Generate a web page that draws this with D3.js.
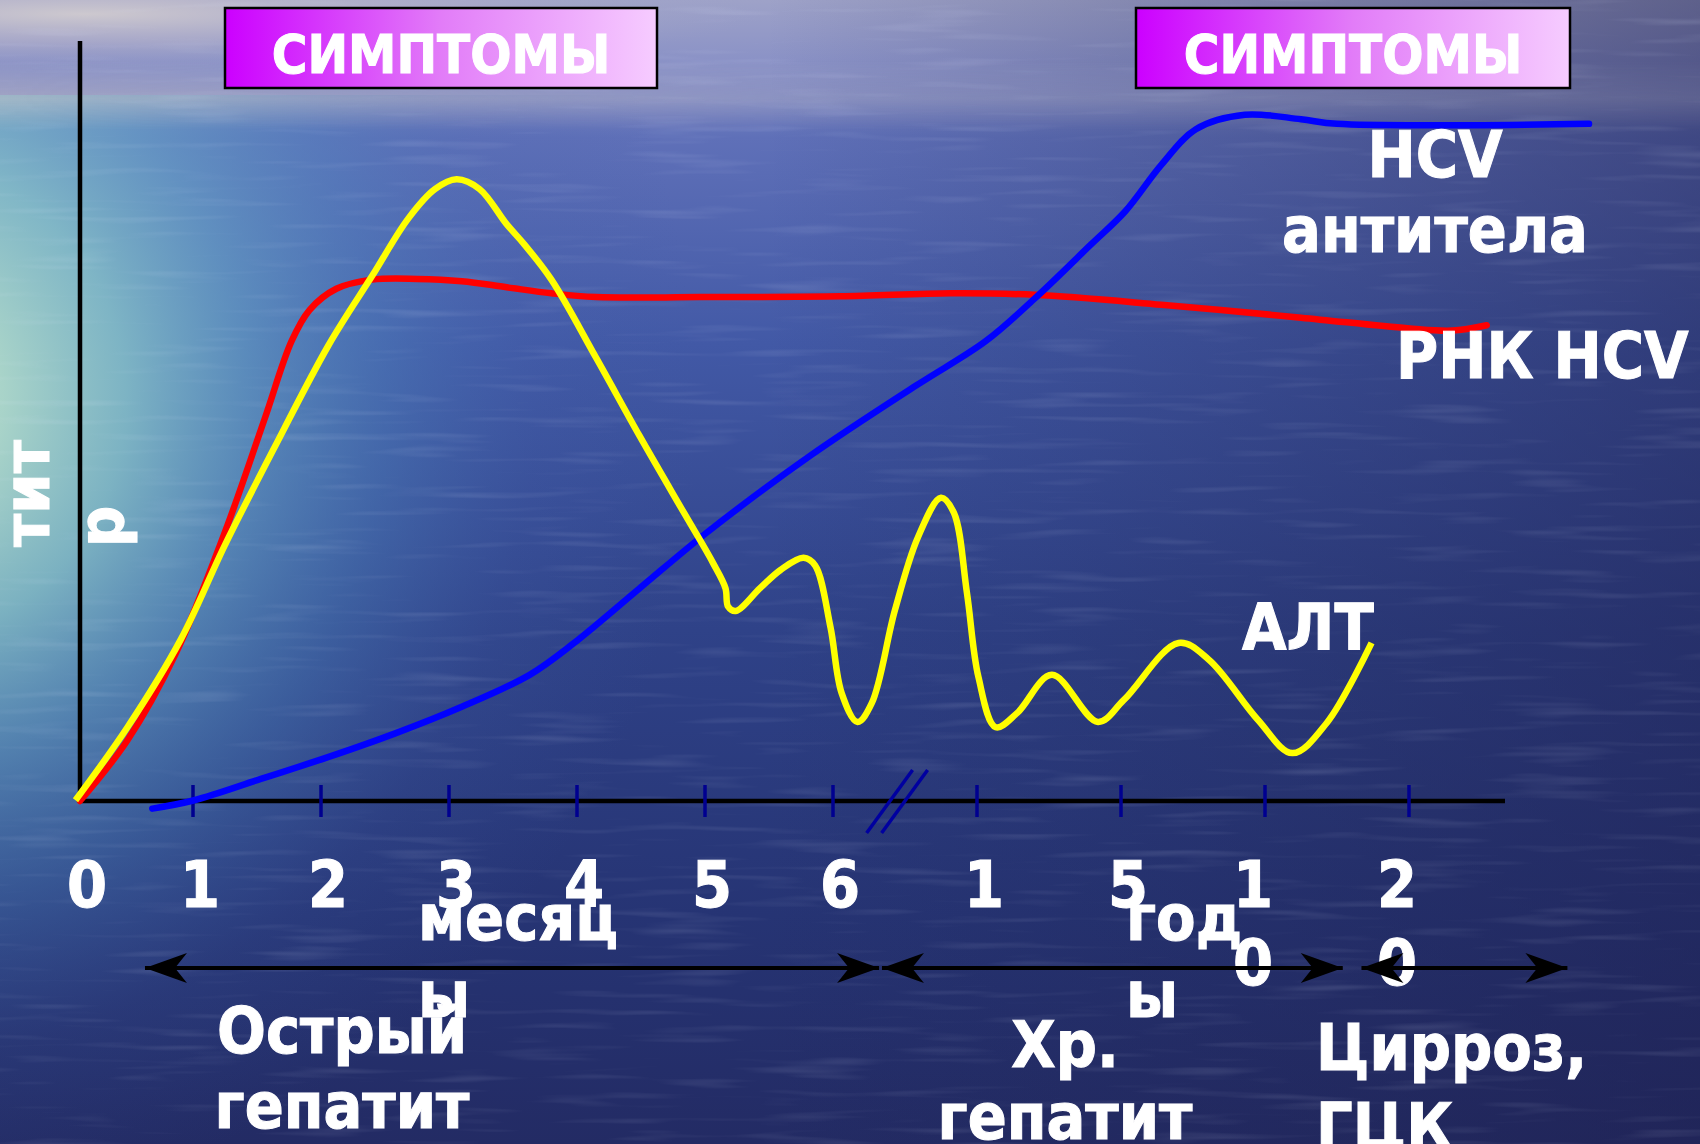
<!DOCTYPE html>
<html lang="ru">
<head>
<meta charset="UTF-8">
<title>HCV</title>
<script src="https://d3js.org/d3.v7.min.js"></script>
<style>
  body { margin: 0; background: #1e2a60; }
  svg text {
    font-family: "DejaVu Sans Condensed", "DejaVu Sans", sans-serif;
    font-stretch: condensed;
    font-weight: bold;
    fill: #fff;
    stroke: #fff;
    stroke-width: 1;
  }
</style>
</head>
<body>
<svg id="chart" width="1700" height="1144"></svg>
<script>
// time axis: t = 0..6 months, then 7..10 = 1, 5, 10, 20 years
var tickT      = [1, 2, 3, 4, 5, 6, 7, 8, 9, 10];
var labelT     = [0, 1, 2, 3, 4, 5, 6, 7, 8, 9, 10];
var tickLabels = ["0", "1", "2", "3", "4", "5", "6", "1", "5", "10", "20"];
var breakT = 6.4;

// РНК HCV  [t, titre]
var rnaHcv = [[0, 0], [0.42, 8], [0.85, 19.5], [1.25, 35.4], [1.56, 50.3], [1.77, 60.5],
  [1.91, 64.6], [2.12, 67.4], [2.4, 68.6], [2.75, 68.7], [3.1, 68.4], [3.45, 67.6],
  [3.8, 66.8], [4.15, 66.3], [4.96, 66.3], [6.05, 66.4], [6.82, 66.8], [7.4, 66.6],
  [8.28, 65.3], [9.25, 63.6], [9.99, 62.2], [10.3, 61.9], [10.54, 62.6]];

// HCV антитела
var antiHcv = [[0.64, -1], [1.01, 0.1], [1.53, 2.9], [2.06, 5.8], [2.58, 8.9], [3.1, 12.4],
  [3.63, 16.6], [3.97, 20.7], [4.49, 28], [5.02, 35.4], [5.82, 45.4], [6.58, 54.7],
  [7.06, 60.5], [7.4, 66.1], [7.79, 73.2], [8.03, 77.6], [8.28, 83.7], [8.52, 88.4],
  [8.86, 90.3], [9.25, 89.7], [9.5, 89.1], [11.25, 89.1]];

// АЛТ
var alt = [[-0.04, 0.1], [0.42, 9.7], [0.89, 21.2], [1.25, 33.7], [1.63, 46.3], [2.06, 60],
  [2.4, 69.1], [2.68, 76.6], [2.89, 80.5], [3.06, 81.8], [3.24, 80.5], [3.45, 75.9],
  [3.59, 73.2], [3.8, 68.6], [4.15, 58.3], [4.49, 48], [4.84, 37.8], [5.06, 31.4],
  [5.16, 28], [5.18, 25.6], [5.24, 25], [5.43, 28], [5.59, 30.4], [5.77, 32], [5.86, 31],
  [5.98, 22.9], [6.06, 14.2], [6.17, 10.4], [6.27, 12.9], [6.43, 25.1], [6.59, 34.7],
  [6.75, 39.9], [6.84, 37.9], [6.93, 27.4], [7.01, 16.3], [7.13, 9.7], [7.28, 11.6],
  [7.52, 16.6], [7.84, 10.4], [8.02, 13.3], [8.4, 20.8], [8.61, 18.6],
  [8.95, 10.7], [9.19, 6.3], [9.43, 10.3], [9.74, 20.8]];

// stages shown by the double arrows
var phases = [[0.575, 6.32], [6.34, 9.54], [9.67, 11.1]];

var svg = d3.select("#chart");
var W = 1700, H = 1144;

var x = d3.scaleLinear().domain([0, 1, 6, 7, 10]).range([80, 193, 833, 977, 1409]);
var y = d3.scaleLinear().domain([0, 100]).range([801, 41]);

// ---------- background (sea photo approximation)
var defs = svg.append("defs");

function stops(grad, list) {
  list.forEach(function(s) {
    grad.append("stop").attr("offset", s[0]).attr("stop-color", s[1])
      .attr("stop-opacity", s[2] == null ? 1 : s[2]);
  });
}

stops(defs.append("linearGradient").attr("id", "bgV").attr("x1", 0).attr("y1", 0).attr("x2", 0).attr("y2", 1),
  [[0, "#9ea2c8"], [0.06, "#8890c6"], [0.09, "#7480c0"], [0.12, "#5f70b8"], [0.3, "#4259a6"],
   [0.55, "#2f4288"], [0.8, "#263474"], [1, "#232b64"]]);

stops(defs.append("linearGradient").attr("id", "bgH").attr("x1", 0).attr("y1", 0).attr("x2", 1).attr("y2", 0),
  [[0, "#1f2350", 0], [0.45, "#1f2350", 0], [1, "#1e1f4e", 0.5]]);

stops(defs.append("radialGradient").attr("id", "glow").attr("gradientUnits", "userSpaceOnUse")
    .attr("cx", -120).attr("cy", 400).attr("r", 820),
  [[0, "#c4e6d0", 1], [0.15, "#aedacb", 0.95], [0.3, "#88c4ca", 0.85], [0.45, "#68a6c8", 0.65],
   [0.62, "#5088c0", 0.4], [0.8, "#4468b0", 0.15], [1, "#3b5ca8", 0]]);

stops(defs.append("radialGradient").attr("id", "sky").attr("cx", 0.05).attr("cy", 0.1).attr("r", 0.4),
  [[0, "#d6d0d0", 0.85], [0.5, "#bdb8cb", 0.5], [1, "#a0a4c8", 0]]);

stops(defs.append("linearGradient").attr("id", "horizon").attr("x1", 0).attr("y1", 0).attr("x2", 0).attr("y2", 1),
  [[0, "#d8d0c8", 0], [0.55, "#d8d0c8", 0.45], [1, "#d8d0c8", 0]]);
stops(defs.append("linearGradient").attr("id", "horizonFade").attr("x1", 0).attr("y1", 0).attr("x2", 1).attr("y2", 0),
  [[0, "#fff", 1], [0.5, "#fff", 0.45], [1, "#fff", 0.3]]);
defs.append("mask").attr("id", "hzMask")
  .append("rect").attr("width", W).attr("height", H).attr("fill", "url(#horizonFade)");

var ripple = defs.append("filter").attr("id", "ripple").attr("x", 0).attr("y", 0).attr("width", 1).attr("height", 1);
ripple.append("feTurbulence").attr("type", "fractalNoise").attr("baseFrequency", "0.008 0.12")
  .attr("numOctaves", 2).attr("seed", 4);
ripple.append("feColorMatrix").attr("type", "matrix")
  .attr("values", "0 0 0 0 0.8  0 0 0 0 0.85  0 0 0 0 1  0 0 0 1.1 -0.6");

svg.append("rect").attr("width", W).attr("height", H).attr("fill", "url(#bgV)");
svg.append("rect").attr("y", 95).attr("width", W).attr("height", H - 95).attr("fill", "url(#glow)");
svg.append("rect").attr("width", W).attr("height", H).attr("fill", "url(#bgH)");
svg.append("rect").attr("width", W).attr("height", 140).attr("fill", "url(#sky)");
svg.append("rect").attr("y", 60).attr("width", W).attr("height", 70)
  .attr("fill", "url(#horizon)").attr("mask", "url(#hzMask)");
svg.append("rect").attr("width", W).attr("height", H)
  .attr("filter", "url(#ripple)").attr("opacity", 0.28);

// ---------- symptom boxes
var boxGrad = defs.append("linearGradient").attr("id", "boxGrad");
stops(boxGrad, [[0, "#cc00ff"], [0.5, "#e27cf8"], [1, "#f6ccff"]]);

var boxes = svg.selectAll(".sym").data([[225, 657], [1136, 1570]]).join("g").attr("class", "sym");
boxes.append("rect")
  .attr("x", d => d[0]).attr("y", 8)
  .attr("width", d => d[1] - d[0]).attr("height", 80)
  .attr("fill", "url(#boxGrad)").attr("stroke", "#000").attr("stroke-width", 2.5);
boxes.append("text")
  .attr("x", d => (d[0] + d[1]) / 2).attr("y", 73)
  .attr("text-anchor", "middle").attr("font-size", 54)
  .text("СИМПТОМЫ");

// ---------- axes
svg.append("line").attr("x1", x(0)).attr("x2", x(0)).attr("y1", y(100)).attr("y2", y(0) + 2)
  .attr("stroke", "#000").attr("stroke-width", 4.5);
svg.append("line").attr("x1", x(0) - 2).attr("x2", 1505).attr("y1", y(0)).attr("y2", y(0))
  .attr("stroke", "#000").attr("stroke-width", 4.5);

svg.selectAll(".tick").data(tickT).join("line").attr("class", "tick")
  .attr("x1", d => x(d)).attr("x2", d => x(d))
  .attr("y1", y(0) - 16).attr("y2", y(0) + 16)
  .attr("stroke", "#000090").attr("stroke-width", 3.5);

// axis break
[0, 15].forEach(function(dx) {
  svg.append("line")
    .attr("x1", x(breakT) - 24 + dx).attr("y1", y(0) + 32)
    .attr("x2", x(breakT) + 22 + dx).attr("y2", y(0) - 31)
    .attr("stroke", "#0000a0").attr("stroke-width", 3.5);
});

// tick labels (long ones wrap one character per line)
var tl = svg.selectAll(".tl").data(labelT).join("text").attr("class", "tl")
  .attr("text-anchor", "middle").attr("font-size", 64)
  .attr("y", 907);
tl.each(function(d, i) {
  var chars = tickLabels[i].split("");
  var cx = x(d) + (chars.length > 1 ? -12 : 7);
  d3.select(this).selectAll("tspan").data(chars).join("tspan")
    .attr("x", cx).attr("dy", (c, j) => j ? 78 : 0)
    .text(c => c);
});

// ---------- curves
var line = d3.line().x(d => x(d[0])).y(d => y(d[1])).curve(d3.curveCatmullRom.alpha(0.5));

svg.append("path").datum(rnaHcv).attr("d", line)
  .attr("fill", "none").attr("stroke", "#ff0000").attr("stroke-width", 6.5).attr("stroke-linecap", "round");
svg.append("path").datum(antiHcv).attr("d", line)
  .attr("fill", "none").attr("stroke", "#0000ff").attr("stroke-width", 6.5).attr("stroke-linecap", "round");
svg.append("path").datum(alt).attr("d", line)
  .attr("fill", "none").attr("stroke", "#ffff00").attr("stroke-width", 6.5).attr("stroke-linejoin", "round");

// ---------- series labels
function block(lines, px, py, anchor, lh) {
  var t = svg.append("text").attr("font-size", 64).attr("text-anchor", anchor).attr("y", py);
  lines.forEach(function(s, j) {
    t.append("tspan").attr("x", px).attr("dy", j ? lh : 0).text(s);
  });
  return t;
}
block(["HCV", "антитела"], 1435, 177, "middle", 75);
block(["РНК HCV"], 1396, 378, "start", 75);
block(["АЛТ"], 1242, 650, "start", 75);

// y-axis title, wrapped and rotated
var yt = svg.append("text").attr("font-size", 64)
  .attr("transform", "translate(49,547) rotate(-90)");
yt.append("tspan").attr("x", 0).attr("y", 0).text("тит");
yt.append("tspan").attr("x", 0).attr("dy", 75).text("р");

// unit labels
block(["месяц", "ы"], 418, 940, "start", 77);
block(["год", "ы"], 1126, 940, "start", 77);

// ---------- stage arrows
defs.append("marker").attr("id", "head")
  .attr("viewBox", "-44 -17 46 34").attr("markerWidth", 46).attr("markerHeight", 34)
  .attr("markerUnits", "userSpaceOnUse").attr("refX", 0).attr("refY", 0)
  .attr("orient", "auto-start-reverse")
  .append("path").attr("d", "M0,0 L-42,-15 L-30,0 L-42,15 Z").attr("fill", "#000");

svg.selectAll(".ph").data(phases).join("line").attr("class", "ph")
  .attr("x1", d => x(d[0])).attr("x2", d => x(d[1]))
  .attr("y1", 968).attr("y2", 968)
  .attr("stroke", "#000").attr("stroke-width", 4)
  .attr("marker-start", "url(#head)").attr("marker-end", "url(#head)");

// stage names
block(["Острый", "гепатит"], 342, 1053, "middle", 75);
block(["Хр.", "гепатит"], 1065, 1067, "middle", 72);
block(["Цирроз,", "ГЦК"], 1316, 1070, "start", 79);
</script>
</body>
</html>
